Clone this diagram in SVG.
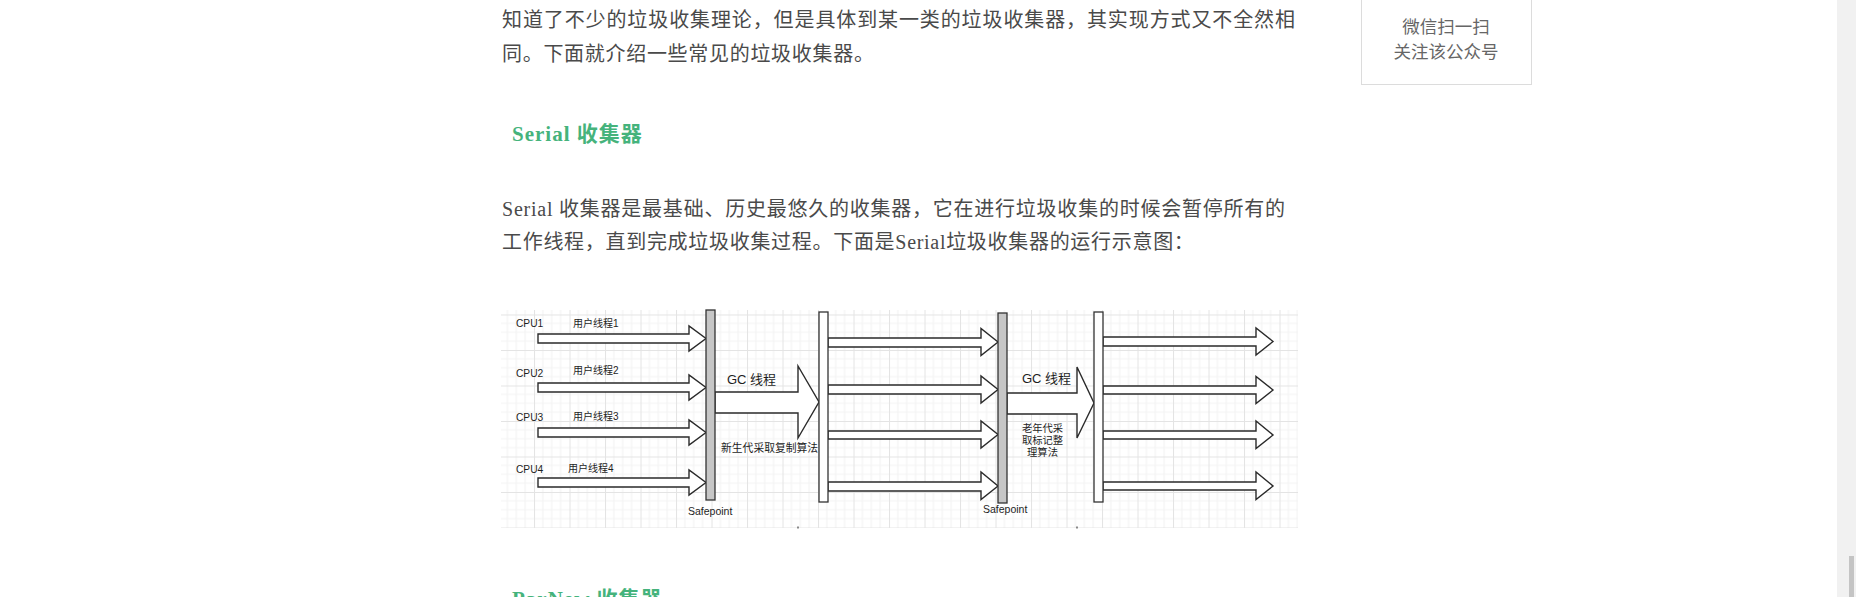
<svg xmlns="http://www.w3.org/2000/svg" width="1856" height="597" viewBox="0 0 1856 597">
<style>
.body{font-family:"Noto Sans CJK SC","Liberation Serif",sans-serif;font-size:20px;fill:#4a4a4a;}
.lat{font-family:"Liberation Serif","Noto Sans CJK SC",serif;}
.h{font-family:"Liberation Serif","Noto Sans CJK SC",serif;font-size:21px;font-weight:bold;fill:#45b37c;letter-spacing:1px;}
.side{font-family:"Noto Sans CJK SC",sans-serif;font-size:17.5px;fill:#666;text-anchor:middle;}
.d{font-family:"Liberation Sans","Noto Sans CJK SC",sans-serif;fill:#1e1e1e;}
.arr{fill:#fff;stroke:#2a2a2a;stroke-width:1.4;stroke-linejoin:miter;}
.bar{stroke:#333;stroke-width:1.3;}
.cpu{font-size:10.2px;}
</style>
<defs>
<pattern id="grid" patternUnits="userSpaceOnUse" x="498.5" y="314.5" width="35.5" height="35.5">
<rect width="35.5" height="35.5" fill="#fff"/>
<path d="M8.875 0V35.5M17.75 0V35.5M26.625 0V35.5M0 8.875H35.5M0 17.75H35.5M0 26.625H35.5" stroke="#f3f3f3" stroke-width="1"/>
<path d="M0.5 0V35.5M0 0.5H35.5" stroke="#e4e4e4" stroke-width="1"/>
</pattern>
</defs>
<rect width="1856" height="597" fill="#fff"/>
<rect x="1837" y="0" width="19" height="597" fill="#f1f1f1"/>
<rect x="1849" y="556" width="5" height="41" fill="#c4c4c4"/>

<g id="page-text">
<text class="body" x="502" y="27.3" textLength="793" lengthAdjust="spacing">知道了不少的垃圾收集理论，但是具体到某一类的垃圾收集器，其实现方式又不全然相</text>
<text class="body" x="502" y="61.3" letter-spacing="0.7">同。下面就介绍一些常见的垃圾收集器。</text>
<text class="h" x="512" y="141">Serial 收集器</text>
<text class="body" x="502" y="216" textLength="783" lengthAdjust="spacing"><tspan class="lat">Serial </tspan>收集器是最基础、历史最悠久的收集器，它在进行垃圾收集的时候会暂停所有的</text>
<text class="body" x="502" y="249.3" letter-spacing="0.7">工作线程，直到完成垃圾收集过程。下面是<tspan class="lat">Serial</tspan>垃圾收集器的运行示意图：</text>
<text class="h" x="512" y="606">ParNew 收集器</text>
</g>

<g id="sidebar">
<rect x="1361.5" y="-10" width="170" height="94.5" fill="#fff" stroke="#dcdcdc" stroke-width="1"/>
<text class="side" x="1446" y="32.5">微信扫一扫</text>
<text class="side" x="1446" y="58">关注该公众号</text>
</g>

<g id="diagram">
<rect x="501" y="310" width="797" height="218" fill="url(#grid)"/>
<path d="M798 526.5v2M1077 526.5v2" stroke="#444" stroke-width="1.2"/>
</g>

<g id="connectors">
<polygon class="arr" points="538,334 689,334 689,326 706,338.5 689,351 689,343 538,343"/>
<polygon class="arr" points="538,383 689,383 689,375 706,387.5 689,400 689,392 538,392"/>
<polygon class="arr" points="538,428 689,428 689,420 706,432.5 689,445 689,437 538,437"/>
<polygon class="arr" points="538,478 689,478 689,470 706,482.5 689,495 689,487 538,487"/>

<polygon class="arr" points="715,392 798,392 798,366 819,402 798,438 798,413 715,413"/>

<polygon class="arr" points="828,338 981,338 981,328.5 998,342 981,355.5 981,347 828,347"/>
<polygon class="arr" points="828,385 981,385 981,376 998,389.5 981,403 981,394 828,394"/>
<polygon class="arr" points="828,431 981,431 981,421 998,434.5 981,448 981,439 828,439"/>
<polygon class="arr" points="828,482 981,482 981,472 998,486 981,499.5 981,491 828,491"/>

<polygon class="arr" points="1007,393 1077,393 1077,367 1094,403 1077,438 1077,414 1007,414"/>

<polygon class="arr" points="1103,337 1256,337 1256,328 1273,341.5 1256,355 1256,346 1103,346"/>
<polygon class="arr" points="1103,386 1256,386 1256,376.5 1273,390 1256,403.5 1256,394 1103,394"/>
<polygon class="arr" points="1103,431 1256,431 1256,421 1273,435 1256,448.5 1256,439 1103,439"/>
<polygon class="arr" points="1103,482 1256,482 1256,472 1273,486 1256,499.5 1256,490 1103,490"/>
</g>

<g id="safepoint-1">
<rect class="bar" x="706" y="310" width="9" height="190" fill="#c6c6c6"/>
<text class="d" x="688" y="515" font-size="10.5">Safepoint</text>
</g>
<g id="bar-2">
<rect class="bar" x="819" y="312" width="9" height="190" fill="#fff"/>
</g>
<g id="safepoint-2">
<rect class="bar" x="998" y="313" width="9" height="190" fill="#c6c6c6"/>
<text class="d" x="983" y="513" font-size="10.5">Safepoint</text>
</g>
<g id="bar-3">
<rect class="bar" x="1094" y="312" width="9" height="190" fill="#fff"/>
</g>

<g id="labels-cpu">
<text class="d cpu" x="516" y="327">CPU1</text>
<text class="d" x="573" y="327" font-size="10">用户线程1</text>
<text class="d cpu" x="516" y="377">CPU2</text>
<text class="d" x="573" y="374" font-size="10">用户线程2</text>
<text class="d cpu" x="516" y="421">CPU3</text>
<text class="d" x="573" y="420" font-size="10">用户线程3</text>
<text class="d cpu" x="516" y="473">CPU4</text>
<text class="d" x="568" y="472" font-size="10">用户线程4</text>
</g>

<g id="gc-young">
<text class="d" x="727" y="384" font-size="13">GC 线程</text>
<text class="d" x="721" y="452" font-size="10.8">新生代采取复制算法</text>
</g>
<g id="gc-old">
<text class="d" x="1022" y="383" font-size="13">GC 线程</text>
<text class="d" x="1042.5" y="432" font-size="10.3" text-anchor="middle">老年代采</text>
<text class="d" x="1042.5" y="444" font-size="10.3" text-anchor="middle">取标记整</text>
<text class="d" x="1042.5" y="456" font-size="10.3" text-anchor="middle">理算法</text>
</g>
</svg>
